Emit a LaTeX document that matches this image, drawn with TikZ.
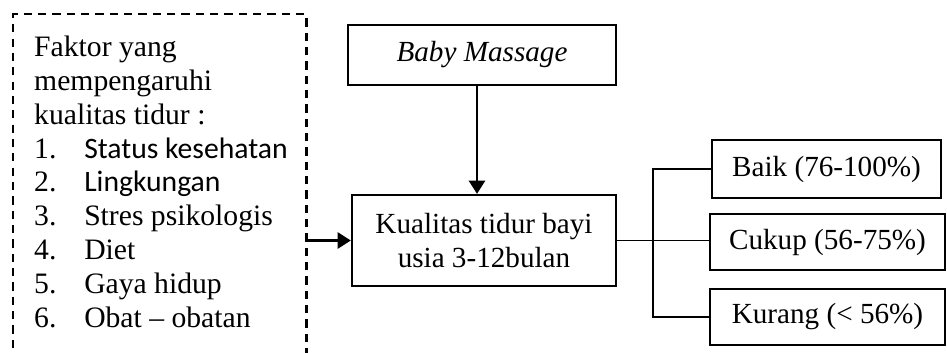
\documentclass[tikz,border=0pt]{standalone}
\usepackage{fontspec}
\setmainfont{Liberation Serif}
\newfontfamily\calibrifont{Carlito}
\usetikzlibrary{arrows.meta}

\tikzset{every picture/.style={line width=1pt}}
\tikzset{
  boxnode/.style={draw, rectangle, inner sep=0pt, align=center, font=\fontsize{12}{13.8}\selectfont},
  dashframe/.style={draw, rectangle, dash pattern={on 3.4pt off 2.5pt}, inner sep=0pt},
  mainarrow/.style={-{Triangle[length=5.4pt,width=6.6pt]}, line width=1pt},
  branchline/.style={line width=0.5pt}
}
\newcommand{\itemno}[1]{\makebox[20.6pt][l]{#1}}

\begin{document}
\begin{tikzpicture}[x=0.4115pt,y=0.4115pt,yscale=-1,xscale=1]
%set diagram size to the 947 x 352 reference
\useasboundingbox (0,0) rectangle (947,352);

% Dashed frame (runs off the bottom edge)
\node [dashframe, anchor=north west, minimum width=120.6pt, minimum height=150pt] (frame) at (12,13) {};
% Text Node
\node [anchor=north west, inner sep=0pt, align=left, font=\fontsize{12.2}{13.9}\selectfont] (faktor) at (33,35)
  {Faktor yang\\
   mempengaruhi\\
   kualitas tidur :\\
   \itemno{1.}{\calibrifont Status kesehatan}\\
   \itemno{2.}{\calibrifont Lingkungan}\\
   \itemno{3.}Stres psikologis\\
   \itemno{4.}Diet\\
   \itemno{5.}Gaya hidup\\
   \itemno{6.}Obat -- obatan};

% Boxes
\node [boxnode, minimum width=110.3pt, minimum height=24.7pt] (baby) at (482,55) {\textit{Baby Massage}};
\node [boxnode, minimum width=108.6pt, minimum height=37.4pt] (kual) at (484,240.5) {Kualitas tidur bayi\\usia 3-12bulan};
\node [boxnode, minimum width=94.2pt, minimum height=23.9pt] (baik) at (826.5,169) {Baik (76-100\%)};
\node [boxnode, minimum width=96.7pt, minimum height=23pt] (cukup) at (827.5,242) {Cukup (56-75\%)};
\node [boxnode, minimum width=96.7pt, minimum height=23pt] (kurang) at (827.5,317) {Kurang (< 56\%)};

%Straight Lines
\coordinate (drop) at (477,0);
\coordinate (split) at (653,240);
\draw [mainarrow] (baby.south -| drop) -- (kual.north -| drop);
\draw [mainarrow] (frame.east |- kual.west) -- (kual.west);
\draw [branchline] (kual.east) -- (kual.east -| cukup.west);
\draw [branchline] (baik.west) -- (baik.west -| split) -- (kurang.west -| split) -- (kurang.west);
\end{tikzpicture}
\end{document}
